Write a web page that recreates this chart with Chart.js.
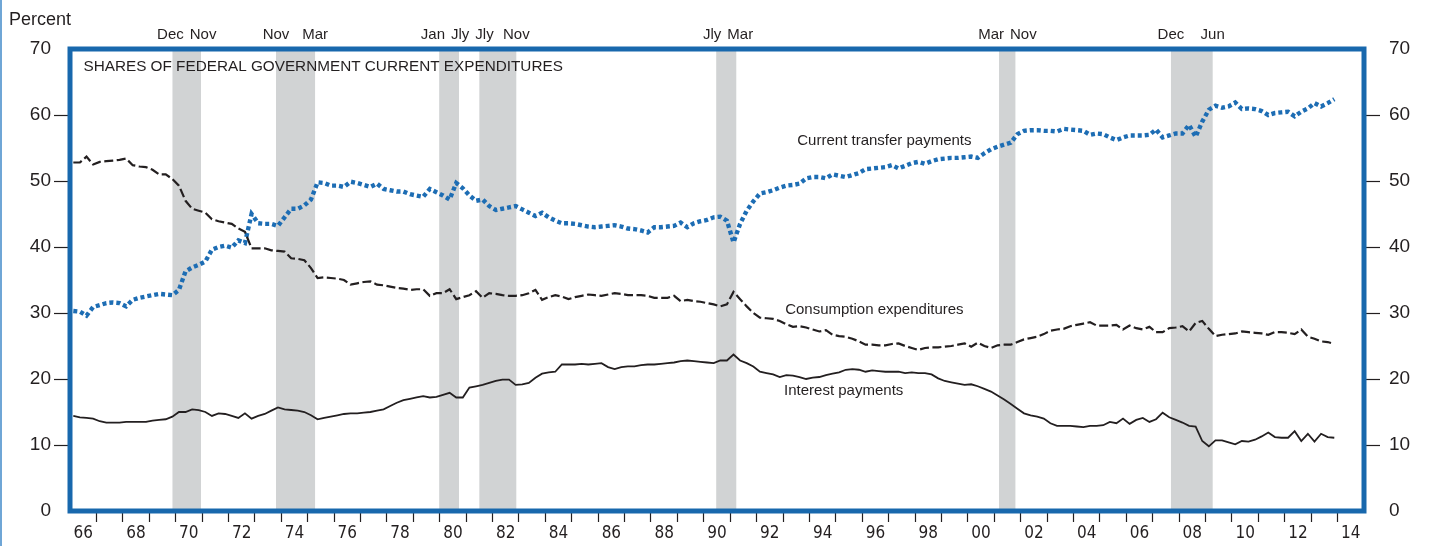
<!DOCTYPE html>
<html>
<head>
<meta charset="utf-8">
<title>Shares of Federal Government Current Expenditures</title>
<script src="https://cdn.jsdelivr.net/npm/chart.js@4.4.1/dist/chart.umd.min.js"></script>
<style>
  html, body { margin: 0; padding: 0; background: #fff; }
  #wrap { width: 1435px; height: 546px; }
</style>
</head>
<body>
<div id="wrap"><canvas id="sharesChart" width="1435" height="546"></canvas></div>
<script>
// Quarterly shares (percent), 1966Q1 through 2013Q4, plotted at mid-quarter
const firstYear = 1966;

const transferPayments = [
  30.3, 30.2, 29.6, 30.9, 31.2, 31.5, 31.6, 31.5,
  31.0, 32.0, 32.3, 32.5, 32.7, 32.9, 32.8, 32.7,
  33.5, 36.3, 36.9, 37.3, 37.8, 39.6, 40.0, 40.2,
  39.9, 41.0, 40.6, 45.0, 43.6, 43.5, 43.5, 43.2,
  44.5, 45.8, 45.8, 46.3, 47.2, 49.8, 49.7, 49.3,
  49.3, 49.1, 49.9, 49.7, 49.4, 49.1, 49.6, 48.8,
  48.6, 48.4, 48.4, 48.0, 47.8, 47.6, 48.8, 48.3,
  47.8, 47.2, 49.7, 48.9, 47.8, 47.0, 47.2, 46.2,
  45.6, 45.8, 46.0, 46.2, 45.7, 45.2, 44.7, 45.2,
  44.5, 44.0, 43.6, 43.6, 43.5, 43.3, 43.1, 43.0,
  43.1, 43.2, 43.3, 43.1, 42.8, 42.7, 42.5, 42.2,
  43.0, 43.0, 43.1, 43.2, 43.7, 43.0, 43.6, 43.9,
  44.1, 44.5, 44.6, 44.0, 40.7, 43.5, 45.5, 46.9,
  48.1, 48.3, 48.6, 49.0, 49.3, 49.4, 49.6, 50.4,
  50.6, 50.6, 50.4, 51.0, 50.8, 50.6, 50.9, 51.2,
  51.8, 51.9, 52.0, 52.1, 52.4, 51.9, 52.3, 52.7,
  52.9, 52.6, 53.0, 53.3, 53.4, 53.5, 53.5, 53.6,
  53.7, 53.5, 54.2, 54.8, 55.2, 55.5, 55.8, 57.1,
  57.6, 57.7, 57.7, 57.6, 57.6, 57.5, 57.9, 57.8,
  57.7, 57.6, 57.0, 57.2, 57.1, 56.6, 56.2, 56.6,
  56.9, 56.9, 56.9, 57.0, 57.8, 56.6, 56.9, 57.2,
  57.2, 58.5, 56.7, 59.0, 60.8, 61.4, 61.1, 61.3,
  61.9, 60.9, 61.0, 60.9, 60.6, 60.0, 60.3, 60.4,
  60.5, 59.8, 60.5, 61.0, 61.8, 61.3, 61.8, 62.4
];

const consumptionExpenditures = [
  52.8, 52.8, 53.7, 52.5, 52.9, 53.0, 53.1, 53.2,
  53.4, 52.4, 52.2, 52.1, 51.7, 51.0, 51.0, 50.3,
  49.3, 47.0, 45.8, 45.5, 45.2, 44.2, 43.9, 43.7,
  43.5, 42.8, 42.3, 39.8, 39.8, 39.8, 39.5, 39.4,
  39.3, 38.3, 38.2, 38.0, 36.8, 35.3, 35.4, 35.3,
  35.2, 35.0, 34.3, 34.5, 34.7, 34.8, 34.3, 34.2,
  34.0, 33.8, 33.7, 33.5, 33.6, 33.6, 32.6, 33.0,
  33.0, 33.6, 32.1, 32.4, 32.7, 33.3, 32.3, 33.0,
  32.9, 32.7, 32.6, 32.6, 32.7, 33.0, 33.5, 32.0,
  32.4, 32.7, 32.5, 32.1, 32.4, 32.6, 32.8, 32.7,
  32.6, 32.8, 33.0, 32.9, 32.7, 32.7, 32.7, 32.6,
  32.3, 32.3, 32.3, 32.6, 31.8, 32.0, 31.8, 31.7,
  31.5, 31.3, 31.0, 31.3, 33.2, 32.1, 31.0, 30.0,
  29.3, 29.2, 29.1, 28.8, 28.3, 27.9, 28.0, 27.8,
  27.5, 27.2, 27.4, 26.7, 26.5, 26.4, 26.1, 25.7,
  25.2, 25.2, 25.1, 25.1, 25.3, 25.4, 25.0, 24.7,
  24.4, 24.7, 24.8, 24.8, 24.9, 25.0, 25.2, 25.4,
  24.9, 25.5, 25.0, 24.7, 25.1, 25.2, 25.2, 25.6,
  26.0, 26.2, 26.4, 26.8, 27.3, 27.5, 27.6, 28.0,
  28.2, 28.4, 28.6, 28.1, 28.1, 28.1, 28.2, 27.5,
  28.1, 27.7, 27.5, 27.9, 27.1, 27.1, 27.7, 27.8,
  28.0, 27.2, 28.5, 28.8, 27.6, 26.5, 26.7, 26.8,
  26.9, 27.2, 27.1, 27.0, 26.9, 26.7, 27.1, 27.1,
  27.0, 26.8, 27.5, 26.4, 26.1, 25.7, 25.6, 25.3
];

const interestPayments = [
  14.4, 14.2, 14.1, 14.0, 13.6, 13.4, 13.4, 13.4,
  13.5, 13.5, 13.5, 13.5, 13.7, 13.8, 13.9, 14.3,
  15.0, 15.0, 15.4, 15.3, 15.0, 14.4, 14.8, 14.7,
  14.4, 14.1, 14.8, 14.0, 14.4, 14.7, 15.2, 15.7,
  15.4, 15.3, 15.2, 15.0, 14.5, 13.9, 14.1, 14.3,
  14.5, 14.7, 14.8, 14.8, 14.9, 15.0, 15.2, 15.4,
  15.9, 16.4, 16.8, 17.0, 17.2, 17.4, 17.2, 17.3,
  17.6, 17.9, 17.2, 17.2, 18.7, 18.9, 19.1, 19.4,
  19.7, 19.9, 19.9, 19.1, 19.2, 19.4, 20.2, 20.8,
  21.0, 21.1, 22.2, 22.2, 22.2, 22.3, 22.2, 22.3,
  22.4, 21.8, 21.5, 21.8, 21.9, 21.9, 22.1, 22.2,
  22.2, 22.3, 22.4, 22.5, 22.7, 22.8, 22.7, 22.6,
  22.5, 22.4, 22.8, 22.8, 23.7, 22.8, 22.4, 21.9,
  21.1, 20.9, 20.7, 20.3, 20.6, 20.5, 20.3, 20.0,
  20.2, 20.3, 20.6, 20.8, 21.0, 21.4, 21.5, 21.4,
  21.1, 21.3, 21.2, 21.1, 21.1, 21.1, 20.9, 21.0,
  20.9, 20.9, 20.7, 20.1, 19.7, 19.5, 19.3, 19.1,
  19.2, 18.9, 18.5, 18.1, 17.5, 16.9, 16.2, 15.5,
  14.8, 14.5, 14.3, 14.0, 13.3, 12.9, 12.9, 12.9,
  12.8, 12.7, 12.9, 12.9, 13.0, 13.5, 13.3, 14.0,
  13.2, 13.8, 14.1, 13.5, 13.9, 14.9, 14.2, 13.8,
  13.4, 12.9, 12.8, 10.6, 9.8, 10.7, 10.7, 10.4,
  10.1, 10.6, 10.5, 10.8, 11.3, 11.9, 11.2, 11.1,
  11.1, 12.1, 10.6, 11.7, 10.5, 11.7, 11.2, 11.1
];

// Recessions (decimal years) and their month labels
const recessionStart = [1969.88, 1973.80, 1979.98, 1981.50, 1990.47, 2001.18, 2007.69];
const recessionEnd   = [1970.96, 1975.28, 1980.73, 1982.90, 1991.23, 2001.80, 2009.27];
const recessionStartLabel = ['Dec', 'Nov', 'Jan', 'Jly', 'Jly', 'Mar', 'Dec'];
const recessionEndLabel   = ['Nov', 'Mar', 'Jly', 'Nov', 'Mar', 'Nov', 'Jun'];

// Axis ticks
const yTicks = [0, 10, 20, 30, 40, 50, 60, 70];
const yearLabels = ['66', '68', '70', '72', '74', '76', '78', '80', '82', '84', '86', '88',
                    '90', '92', '94', '96', '98', '00', '02', '04', '06', '08', '10', '12', '14'];
const xMin = 1966, xMax = 2015;

const INK = '#231f20';
const FRAME_BLUE = '#1868ad';
const DOT_BLUE = '#1d6db4';
const SHADE = '#d1d3d4';
const FONT = '"Liberation Sans", Arial, Helvetica, sans-serif';
const NARROW = '"Liberation Sans Narrow", "Arial Narrow", "DejaVu Sans Condensed", sans-serif';

function toPoints(values) {
    return values.map((v, i) => ({ x: firstYear + 0.125 + i * 0.25, y: v }));
}

// label years sit in the middle of each even year
const labelCenters = yearLabels.map((_, i) => xMin + 2 * i + 0.5);

const chartDecor = {
    id: 'chartDecor',
    beforeDatasetsDraw(chart) {
        const { ctx, chartArea: a, scales: { x } } = chart;
        ctx.save();
        ctx.fillStyle = SHADE;
        recessionStart.forEach((s, i) => {
            const x0 = x.getPixelForValue(s);
            const x1 = x.getPixelForValue(recessionEnd[i]);
            ctx.fillRect(x0, a.top, x1 - x0, a.bottom - a.top);
        });
        ctx.restore();
    },
    afterDatasetsDraw(chart) {
        const { ctx, chartArea: a, scales: { x, y } } = chart;
        ctx.save();
        // frame
        ctx.strokeStyle = FRAME_BLUE;
        ctx.lineWidth = 5;
        ctx.strokeRect(a.left, a.top, a.right - a.left, a.bottom - a.top);

        // title and series labels
        ctx.fillStyle = INK;
        ctx.textAlign = 'left';
        ctx.textBaseline = 'alphabetic';
        ctx.font = '15.3px ' + FONT;
        ctx.fillText('SHARES OF FEDERAL GOVERNMENT CURRENT EXPENDITURES', x.getPixelForValue(1966.51), y.getPixelForValue(66.6));
        ctx.font = '15px ' + FONT;
        ctx.fillText('Current transfer payments', x.getPixelForValue(1993.54), y.getPixelForValue(55.4));
        ctx.fillText('Consumption expenditures', x.getPixelForValue(1993.08), y.getPixelForValue(29.9));
        ctx.fillText('Interest payments', x.getPixelForValue(1993.04), y.getPixelForValue(17.6));
        ctx.restore();
    },
    afterDraw(chart) {
        const { ctx, scales: { x } } = chart;
        ctx.save();
        // thin page rule on the far left
        ctx.fillStyle = '#6fa6d6';
        ctx.fillRect(0, 0, 2, chart.height);

        ctx.fillStyle = INK;
        ctx.textBaseline = 'alphabetic';
        ctx.font = '18px ' + FONT;
        ctx.textAlign = 'left';
        ctx.fillText('Percent', 9, 25);

        // recession month labels: centred on the shading edges, then spread so none collide
        ctx.font = '15px ' + FONT;
        ctx.textAlign = 'center';
        const labels = [];
        recessionStart.forEach((s, i) => {
            labels.push({ text: recessionStartLabel[i], c: x.getPixelForValue(s) });
            labels.push({ text: recessionEndLabel[i], c: x.getPixelForValue(recessionEnd[i]) });
        });
        labels.forEach(l => { l.w = ctx.measureText(l.text).width; });
        const minGap = 6;
        for (let pass = 0; pass < 30; pass++) {
            for (let i = 0; i < labels.length - 1; i++) {
                const p = labels[i], q = labels[i + 1];
                const gap = (q.c - q.w / 2) - (p.c + p.w / 2);
                if (gap < minGap) {
                    const d = (minGap - gap) / 2;
                    p.c -= d;
                    q.c += d;
                }
            }
        }
        labels.forEach(l => ctx.fillText(l.text, l.c, 39));
        ctx.restore();
    }
};

function yTickColor(c) {
    const v = c.tick ? c.tick.value : null;
    return (v === 0 || v === 70) ? 'rgba(0,0,0,0)' : INK;
}

function yAxis(position, labelPad, width) {
    return {
        type: 'linear',
        position: position,
        min: 0,
        max: 70,
        afterBuildTicks: (axis) => { axis.ticks = yTicks.map(v => ({ value: v })); },
        afterFit: (axis) => { axis.width = width; },
        border: { display: false },
        grid: {
            drawOnChartArea: false,
            drawTicks: true,
            tickLength: 16,
            tickWidth: 1.2,
            tickColor: yTickColor
        },
        ticks: {
            color: INK,
            padding: labelPad,
            font: { family: FONT, size: 19 }
        }
    };
}

const ctx = document.getElementById('sharesChart').getContext('2d');
const sharesChart = new Chart(ctx, {
    type: 'line',
    data: {
        datasets: [
            {
                label: 'Interest payments',
                data: toPoints(interestPayments),
                borderColor: INK,
                borderWidth: 1.8,
                pointRadius: 0,
                tension: 0
            },
            {
                label: 'Consumption expenditures',
                data: toPoints(consumptionExpenditures),
                borderColor: INK,
                borderWidth: 2.2,
                borderDash: [9, 3.5],
                pointRadius: 0,
                tension: 0
            },
            {
                label: 'Current transfer payments',
                data: toPoints(transferPayments),
                borderColor: DOT_BLUE,
                borderWidth: 4.4,
                borderDash: [4, 3],
                pointRadius: 0,
                tension: 0
            }
        ]
    },
    options: {
        responsive: false,
        animation: false,
        devicePixelRatio: 1,
        events: [],
        layout: { padding: { top: 49, left: 0, right: 0, bottom: 0 } },
        plugins: {
            legend: { display: false },
            tooltip: { enabled: false },
            title: { display: false }
        },
        scales: {
            x: {
                type: 'linear',
                position: 'bottom',
                min: xMin,
                max: xMax,
                afterBuildTicks: (axis) => {
                    const t = [];
                    for (let yr = xMin + 1; yr < xMax; yr++) t.push(yr);
                    labelCenters.forEach(c => t.push(c));
                    t.sort((p, q) => p - q);
                    axis.ticks = t.map(v => ({ value: v }));
                },
                afterFit: (axis) => { axis.height = 35; },
                border: { display: false },
                grid: {
                    drawOnChartArea: false,
                    drawTicks: true,
                    tickLength: 11,
                    tickWidth: 1.2,
                    tickColor: (c) => (c.tick && Number.isInteger(c.tick.value)) ? INK : 'rgba(0,0,0,0)'
                },
                ticks: {
                    autoSkip: false,
                    maxRotation: 0,
                    minRotation: 0,
                    padding: 1,
                    color: INK,
                    font: { family: NARROW, size: 17 },
                    callback: (value) => {
                        const i = labelCenters.indexOf(value);
                        return i >= 0 ? yearLabels[i] : '';
                    }
                }
            },
            y: yAxis('left', 3, 70),
            yRight: yAxis('right', 9, 71)
        }
    },
    plugins: [chartDecor]
});
</script>
</body>
</html>
